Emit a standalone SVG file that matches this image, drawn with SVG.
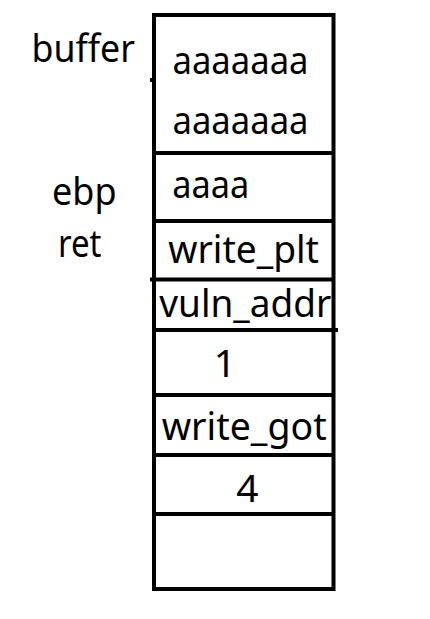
<svg xmlns="http://www.w3.org/2000/svg" width="430" height="619" viewBox="0 0 430 619">
<style>
.ln{stroke:#000;stroke-width:4;fill:none}
.t{font-family:"Noto Sans","Open Sans",sans-serif;font-size:39px;fill:#000}
.c{text-anchor:middle}
</style>
<rect x="0" y="0" width="430" height="619" fill="#fff"/>
<g id="stack">
<rect class="ln" x="154" y="15" width="179.5" height="574"/>
<line class="ln" x1="152" y1="153" x2="333.5" y2="153"/>
<line class="ln" x1="152" y1="221" x2="333.5" y2="221"/>
<line class="ln" x1="150" y1="279.5" x2="333.5" y2="279.5"/>
<line class="ln" x1="154" y1="330" x2="338" y2="330"/>
<line class="ln" x1="152" y1="395" x2="333.5" y2="395"/>
<line class="ln" x1="152" y1="455" x2="333.5" y2="455"/>
<line class="ln" x1="152" y1="514" x2="333.5" y2="514"/>
<line class="ln" x1="150" y1="80" x2="154" y2="80"/>
</g>
<g id="labels">
<text class="t" x="31.5" y="61.5" textLength="103.5" lengthAdjust="spacingAndGlyphs">buffer</text>
<text class="t" x="52" y="205" textLength="64.5" lengthAdjust="spacingAndGlyphs">ebp</text>
<text class="t" x="58" y="257" textLength="43.5" lengthAdjust="spacingAndGlyphs">ret</text>
</g>
<g id="cell-buffer">
<text class="t" x="172.5" y="74.3" textLength="136" lengthAdjust="spacingAndGlyphs">aaaaaaa</text>
<text class="t" x="172.5" y="134" textLength="136" lengthAdjust="spacingAndGlyphs">aaaaaaa</text>
</g>
<g id="cell-ebp"><text class="t" x="172.3" y="198" textLength="77" lengthAdjust="spacingAndGlyphs">aaaa</text></g>
<g id="cell-ret"><text class="t" x="168.3" y="263.3" textLength="150.7" lengthAdjust="spacingAndGlyphs">write_plt</text></g>
<g id="cell-vuln"><text class="t" x="159.3" y="316.7" textLength="172" lengthAdjust="spacingAndGlyphs">vuln_addr</text></g>
<g id="cell-1"><text class="t c" x="225" y="377">1</text></g>
<g id="cell-got"><text class="t" x="161.7" y="440" textLength="165" lengthAdjust="spacingAndGlyphs">write_got</text></g>
<g id="cell-4"><text class="t c" x="247.5" y="501.7">4</text></g>
<g id="cell-empty"></g>
</svg>
